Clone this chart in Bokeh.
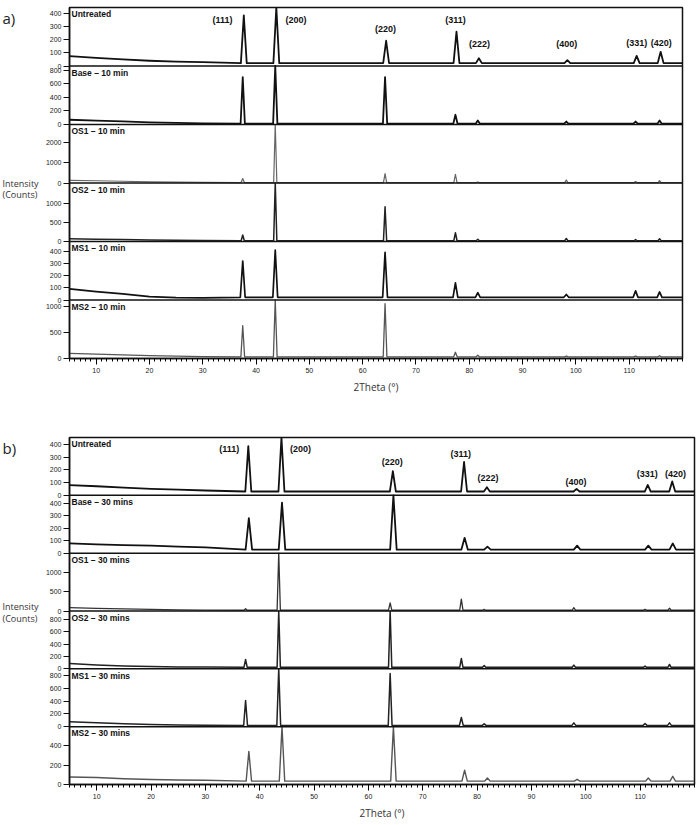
from bokeh.plotting import figure
from bokeh.layouts import column, row
from bokeh.models import Range1d, FixedTicker, Label, Span
from bokeh.core.properties import value
from bokeh.embed import file_html
from bokeh.resources import INLINE

# ---------------- data ----------------
X_START, X_END = 5, 120
x_ticks = [10, 20, 30, 40, 50, 60, 70, 80, 90, 100, 110]
x_minor = list(range(5, 121))

base_x = [5, 10, 15, 20, 25, 30]          # 2theta of low-angle background samples
hkl = ["(111)", "(200)", "(220)", "(311)", "(222)", "(400)", "(331)", "(420)"]
theta_a = [37.7, 43.8, 64.4, 77.6, 81.8, 98.4, 111.4, 115.9]
theta_b = [37.9, 44.0, 64.5, 77.6, 81.8, 98.3, 111.4, 115.9]

# panel a) 10 min
names_a = ["Untreated", "Base \u2013 10 min", "OS1 \u2013 10 min",
           "OS2 \u2013 10 min", "MS1 \u2013 10 min", "MS2 \u2013 10 min"]
ymax_a = [445, 860, 2870, 1530, 480, 1130]
yticks_a = [[0, 100, 200, 300, 400], [0, 200, 400, 600, 800], [0, 1000, 2000],
            [0, 500, 1000], [0, 100, 200, 300, 400], [0, 500, 1000]]
shift_a = [0.0, -0.2, -0.2, -0.2, -0.2, -0.2]
bglow_a = [[75, 62, 50, 40, 34, 30],
           [70, 58, 45, 32, 24, 18],
           [130, 110, 85, 60, 40, 30],
           [70, 60, 50, 40, 32, 28],
           [91, 69, 50, 27, 20, 18],
           [100, 85, 70, 55, 45, 38]]
bg_a = [22, 12, 20, 20, 22, 30]
peaks_a = [[385, 445, 192, 262, 59, 44, 77, 108],
           [696, 860, 696, 143, 59, 44, 44, 59],
           [220, 2870, 460, 420, 50, 150, 70, 120],
           [170, 1530, 910, 230, 60, 80, 50, 70],
           [320, 410, 390, 140, 60, 45, 75, 66],
           [636, 1130, 1060, 120, 63, 45, 45, 53]]

# panel b) 30 mins
names_b = ["Untreated", "Base \u2013 30 mins", "OS1 \u2013 30 mins",
           "OS2 \u2013 30 mins", "MS1 \u2013 30 mins", "MS2 \u2013 30 mins"]
ymax_b = [453, 463, 1495, 934, 913, 598]
yticks_b = [[0, 100, 200, 300, 400], [0, 100, 200, 300, 400], [0, 500, 1000],
            [0, 200, 400, 600, 800], [0, 200, 400, 600, 800], [0, 200, 400]]
shift_b = [0.0, 0.1, -0.5, -0.5, -0.5, 0.1]
bglow_b = [[80, 71, 60, 51, 44, 38],
           [78, 70, 65, 60, 52, 47],
           [85, 70, 55, 40, 30, 25],
           [88, 63, 45, 36, 30, 28],
           [78, 60, 45, 36, 28, 24],
           [78, 72, 60, 51, 47, 44]]
bg_b = [30, 28, 20, 25, 20, 35]
peaks_b = [[385, 453, 190, 261, 64, 51, 81, 109],
           [280, 405, 463, 123, 52, 60, 60, 78],
           [60, 1495, 212, 308, 40, 85, 45, 70],
           [151, 934, 934, 167, 52, 60, 45, 70],
           [414, 913, 840, 144, 45, 60, 50, 60],
           [342, 598, 598, 147, 68, 54, 68, 85]]

# ---------------- styles / layout ----------------
colors_a = ["#111111", "#111111", "#666666", "#222222", "#111111", "#555555"]
colors_b = ["#111111", "#111111", "#333333", "#222222", "#222222", "#555555"]
lw_a = [1.8, 1.8, 1.2, 1.5, 1.7, 1.3]
lw_b = [1.8, 1.8, 1.3, 1.5, 1.5, 1.4]
hw_a = [0.55, 0.4, 0.3, 0.3, 0.45, 0.35]   # peak half width (deg)
hw_b = [0.55, 0.6, 0.3, 0.3, 0.35, 0.5]
hkl_pos_a = [(33.7, 353), (47.5, 353), (64.3, 284), (77.4, 353),
             (81.9, 171), (98.3, 171), (111.4, 175), (116.0, 175)]
hkl_pos_b = [(34.4, 360), (47.5, 360), (64.4, 261), (77.0, 324),
             (82.0, 132), (98.2, 106), (111.3, 165), (116.5, 165)]

LABEL_FONT = "Liberation Sans"
TEXT_FONT = "Open Sans"
NB = 6
LEFT_W = 42


def trace(theta, shift, bglow, bg, peaks, hw):
    xs = list(base_x)
    ys = list(bglow)
    for t, h in zip(theta, peaks):
        c = t + shift
        xs += [c - hw, c, c + hw]
        ys += [bg, h, bg]
    xs.append(X_END)
    ys.append(bg)
    return xs, ys


def text_column(width, frame_h, top_b, bottom_b, tag, int_from_top, counts_from_top):
    # frame of this narrow plot lines up with the main plot's frame
    p = figure(width=width, height=top_b + frame_h + bottom_b, x_range=Range1d(0, width),
               y_range=Range1d(0, frame_h), output_backend="svg", toolbar_location=None,
               x_axis_location=None, y_axis_location=None,
               min_border_left=0, min_border_right=0, min_border_top=top_b,
               min_border_bottom=bottom_b)
    p.grid.visible = False
    p.outline_line_color = None
    p.text(x=[2], y=[frame_h], text=[tag], text_font=value(TEXT_FONT),
           text_font_size="15px", text_baseline="top", text_color="#222222")
    p.text(x=[2, 2], y=[frame_h - int_from_top, frame_h - counts_from_top],
           text=["Intensity", "(Counts)"], text_font=value(TEXT_FONT),
           text_font_size="9px", text_baseline="middle", text_color="#333333")
    return p


def make_panel(names, ymax, yticks, shift, bglow, bg, peaks, theta, colors, lws, hws,
               border_left, frame_w, frame_h, top_b, bottom_b, hkl_pos):
    p = figure(width=border_left + frame_w + 4, height=top_b + frame_h + bottom_b,
               x_range=Range1d(X_START, X_END), y_range=Range1d(0, NB),
               output_backend="svg", toolbar_location=None,
               min_border_left=border_left, min_border_right=4,
               min_border_top=top_b, min_border_bottom=bottom_b)
    p.grid.visible = False
    p.outline_line_color = "#111111"
    p.outline_line_width = 1.5
    ticks = []
    overrides = {}
    for k in range(NB):
        name = "b%d" % k
        p.extra_y_ranges[name] = Range1d(-(NB - 1 - k) * ymax[k], (k + 1) * ymax[k])
        for v in yticks[k]:
            pos = (NB - 1 - k) + v / ymax[k]
            ticks.append(pos)
            overrides[pos] = str(v)
        xs, ys = trace(theta, shift[k], bglow[k], bg[k], peaks[k], hws[k])
        p.line(xs, ys, y_range_name=name, line_color=colors[k], line_width=lws[k],
               line_join="round")
        p.add_layout(Label(x=X_START, y=NB - k - 0.03, x_offset=2, text=names[k],
                           text_baseline="top", text_font=LABEL_FONT,
                           text_font_style="bold", text_font_size="8.5px",
                           text_color="#111111"))
        if k > 0:
            p.add_layout(Span(location=NB - k, dimension="width",
                              line_color="#111111", line_width=1.5))
    for lab, (lx, ly) in zip(hkl, hkl_pos):
        p.add_layout(Label(x=lx, y=ly, y_range_name="b0", text=lab, text_align="center",
                           text_baseline="middle", text_font=LABEL_FONT,
                           text_font_style="bold", text_font_size="9px",
                           text_color="#111111"))
    ya = p.yaxis[0]
    ya.ticker = FixedTicker(ticks=ticks, minor_ticks=[])
    ya.major_label_overrides = overrides
    ya.major_tick_in = 0
    ya.major_tick_out = 6
    ya.minor_tick_out = 0
    ya.minor_tick_in = 0
    ya.major_label_standoff = 2
    ya.major_label_text_font_size = "7px"
    ya.major_label_text_font = LABEL_FONT
    ya.major_label_text_color = "#222222"
    ya.axis_line_color = "#111111"
    ya.axis_line_width = 1.5
    ya.major_tick_line_color = "#111111"
    xa = p.xaxis[0]
    xa.ticker = FixedTicker(ticks=x_ticks, minor_ticks=x_minor)
    xa.major_tick_in = 0
    xa.major_tick_out = 6
    xa.minor_tick_in = 0
    xa.minor_tick_out = 3
    xa.major_label_standoff = 3
    xa.major_label_text_font_size = "7px"
    xa.major_label_text_font = LABEL_FONT
    xa.major_label_text_color = "#222222"
    xa.axis_line_color = "#111111"
    xa.axis_line_width = 1.5
    xa.axis_label = "2Theta (\u00b0)"
    xa.axis_label_text_font = TEXT_FONT
    xa.axis_label_text_font_style = "normal"
    xa.axis_label_text_font_size = "10px"
    xa.axis_label_text_color = "#333333"
    xa.axis_label_standoff = 4
    return p


main_a = make_panel(names_a, ymax_a, yticks_a, shift_a, bglow_a, bg_a, peaks_a, theta_a,
                    colors_a, lw_a, hw_a, 68 - LEFT_W, 614, 351, 7, 40, hkl_pos_a)
left_a = text_column(LEFT_W, 351, 7, 40, "a)", 176, 187)
main_b = make_panel(names_b, ymax_b, yticks_b, shift_b, bglow_b, bg_b, peaks_b, theta_b,
                    colors_b, lw_b, hw_b, 67 - LEFT_W, 627, 352, 39, 33, hkl_pos_b)
left_b = text_column(LEFT_W, 352, 39, 33, "b)", 171, 184)

layout = column(row(left_a, main_a, spacing=0), row(left_b, main_b, spacing=0), spacing=0)

open("out.html", "w").write(file_html(layout, INLINE))
